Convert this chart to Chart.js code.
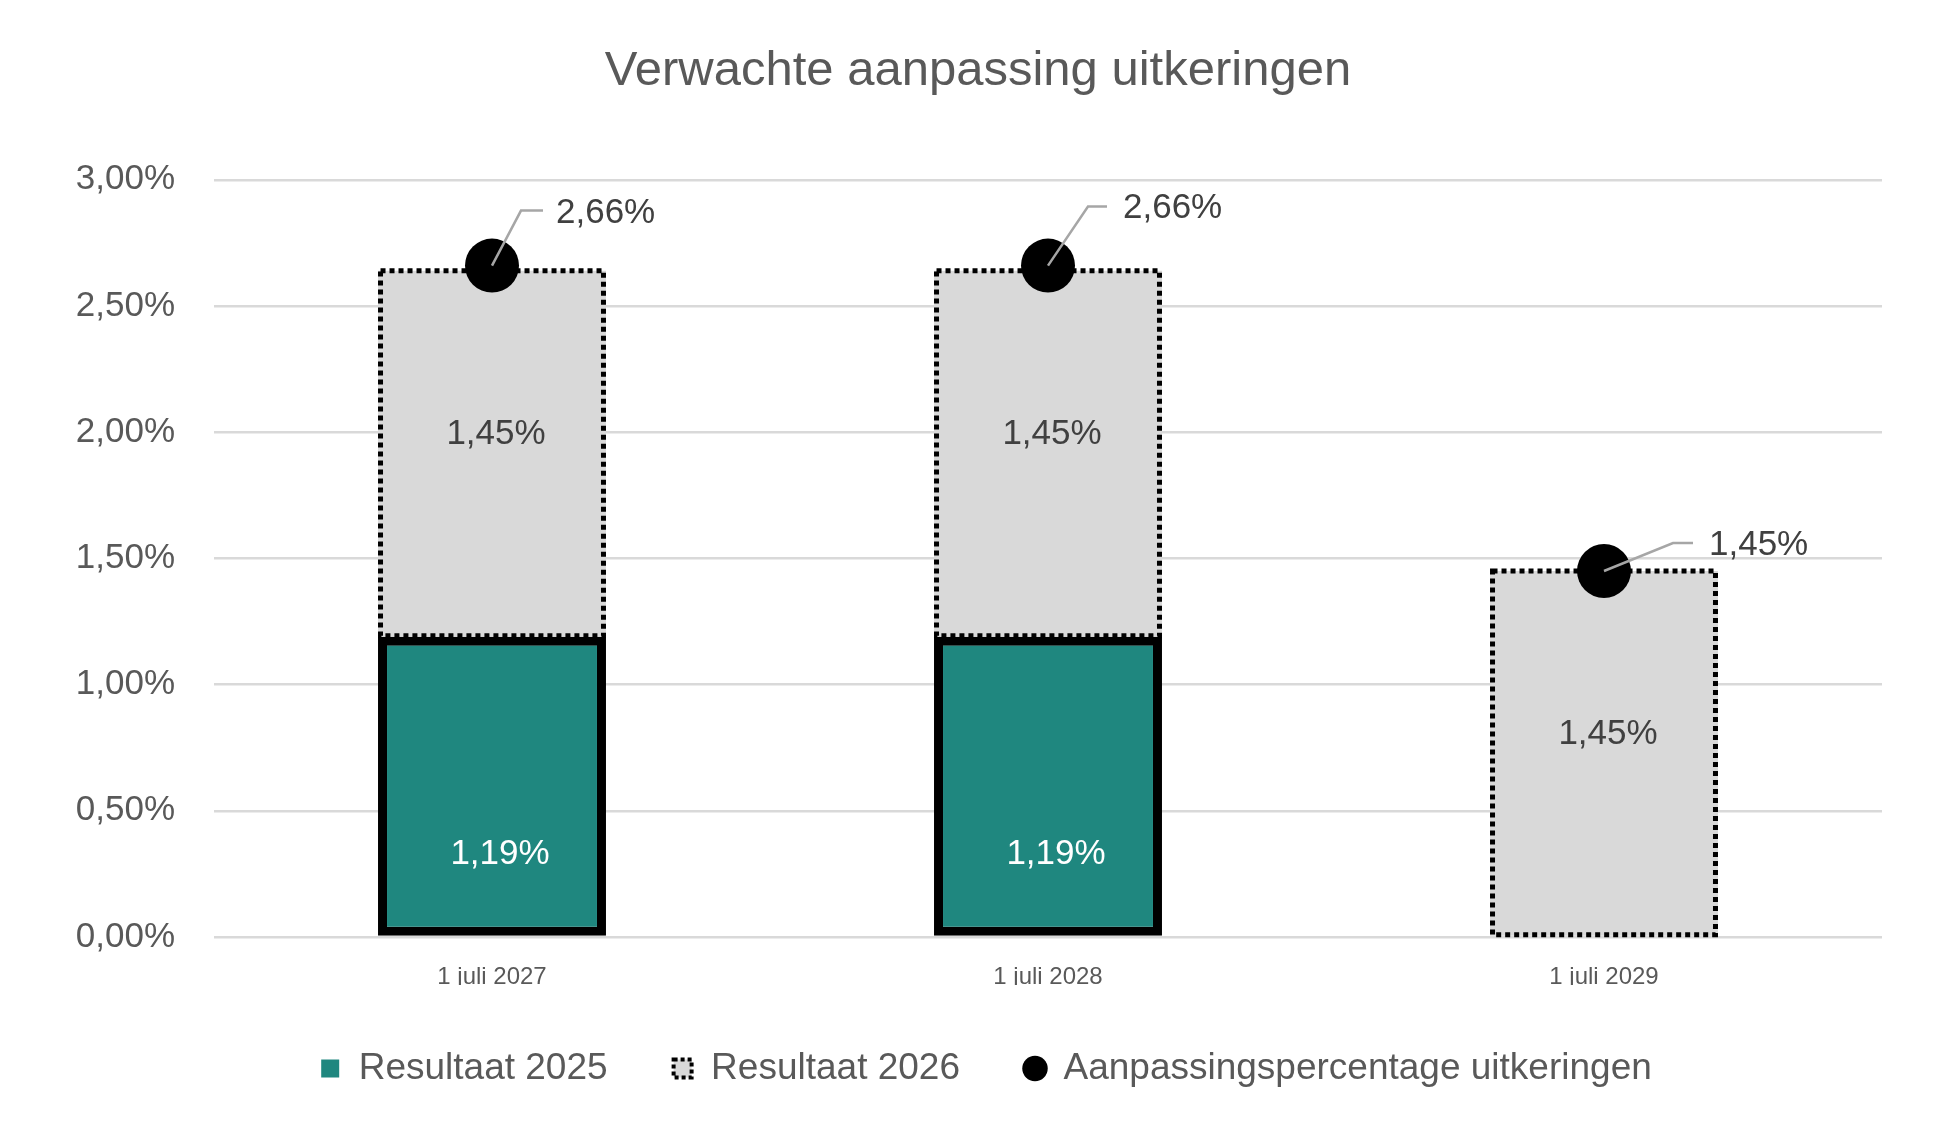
<!DOCTYPE html>
<html lang="nl">
<head>
  <meta charset="UTF-8">
  <title>Verwachte aanpassing uitkeringen</title>
  <script src="https://cdn.jsdelivr.net/npm/chart.js"></script>
  <style>
    html, body { margin: 0; padding: 0; background: #fff; }
  </style>
</head>
<body>
  <canvas id="uitkeringChart" width="1948" height="1133"></canvas>

  <script>
    // Data
    const categories = ['1 juli 2027', '1 juli 2028', '1 juli 2029'];
    const resultaat2025 = [1.19, 1.19, null];
    const resultaat2026 = [1.45, 1.45, 1.45];
    const aanpassing = [2.66, 2.66, 1.45];
    const yTicks = [0, 0.5, 1, 1.5, 2, 2.5, 3];

    const FONT = "'Liberation Sans', Arial, sans-serif";
    const TEAL = '#1F877F';
    const GREY = '#D9D9D9';
    const pct = v => v.toFixed(2).replace('.', ',') + '%';

    // callout placement for the dot labels (offsets from the dot centre)
    const callouts = [
      { elbowX: 29, elbowY: -55, endX: 51, textX: 64, textY: -52 },
      { elbowX: 40, elbowY: -59, endX: 59, textX: 75, textY: -57 },
      { elbowX: 69, elbowY: -28, endX: 89, textX: 105, textY: -26 },
    ];

    // dotted outline for the "Resultaat 2026" bars (Chart.js bars have no borderDash)
    const dottedBars = {
      id: 'dottedBars',
      afterDatasetDraw(chart, args) {
        if (args.index !== 1) return;
        const ctx = chart.ctx;
        ctx.save();
        ctx.strokeStyle = '#000';
        ctx.lineWidth = 5;
        ctx.setLineDash([5, 4]);
        args.meta.data.forEach((bar) => {
          const { x, y, base, width } = bar.getProps(['x', 'y', 'base', 'width'], true);
          ctx.strokeRect(x - width / 2 + 2.5, y, width - 5, base - y - 1);
        });
        ctx.restore();
      },
    };

    // value labels on bars and callouts on the dots
    const valueLabels = {
      id: 'valueLabels',
      afterDatasetsDraw(chart) {
        const ctx = chart.ctx;
        ctx.save();
        ctx.font = `35px ${FONT}`;
        ctx.textAlign = 'center';
        ctx.textBaseline = 'middle';

        chart.getDatasetMeta(0).data.forEach((bar, i) => {
          if (resultaat2025[i] == null) return;
          const { x, base } = bar.getProps(['x', 'base'], true);
          ctx.fillStyle = '#fff';
          ctx.fillText(pct(resultaat2025[i]), x + 8, base - 81);
        });

        chart.getDatasetMeta(1).data.forEach((bar, i) => {
          const { x, y, base } = bar.getProps(['x', 'y', 'base'], true);
          ctx.fillStyle = '#404040';
          ctx.fillText(pct(resultaat2026[i]), x + 4, (y + base) / 2 - 19);
        });

        chart.getDatasetMeta(2).data.forEach((pt, i) => {
          const { x, y } = pt.getProps(['x', 'y'], true);
          const c = callouts[i];
          ctx.strokeStyle = '#A6A6A6';
          ctx.lineWidth = 2.5;
          ctx.beginPath();
          ctx.moveTo(x, y);
          ctx.lineTo(x + c.elbowX, y + c.elbowY);
          ctx.lineTo(x + c.endX, y + c.elbowY);
          ctx.stroke();
          ctx.fillStyle = '#404040';
          ctx.textAlign = 'left';
          ctx.fillText(pct(aanpassing[i]), x + c.textX, y + c.textY);
        });
        ctx.restore();
      },
    };

    // Excel centres title and legend on the whole chart, not on the plot area
    const centreBlocks = {
      id: 'centreBlocks',
      afterLayout(chart) {
        chart.legend.left = 90;
        chart.titleBlock.left = 74;
      },
    };

    const config = {
      data: {
        labels: categories,
        datasets: [
          {
            type: 'bar',
            label: 'Resultaat 2025',
            data: resultaat2025,
            backgroundColor: TEAL,
            borderColor: '#000',
            borderWidth: 9,
            borderSkipped: false,
            order: 1,
          },
          {
            type: 'bar',
            label: 'Resultaat 2026',
            data: resultaat2026,
            backgroundColor: GREY,
            borderWidth: 0,
            order: 2,
          },
          {
            type: 'line',
            label: 'Aanpassingspercentage uitkeringen',
            data: aanpassing,
            showLine: false,
            pointStyle: 'circle',
            pointRadius: 27,
            pointHoverRadius: 27,
            pointBackgroundColor: '#000',
            pointBorderWidth: 0,
            stack: 'dots',
            order: 0,
          },
        ],
      },
      options: {
        responsive: false,
        devicePixelRatio: 1,
        animation: false,
        layout: { padding: { left: 0, right: 66, top: 0, bottom: 36 } },
        datasets: {
          bar: { categoryPercentage: 1, barPercentage: 0.41 },
        },
        scales: {
          x: {
            stacked: true,
            grid: { display: false },
            border: { display: false },
            ticks: {
              color: '#595959',
              font: { family: FONT, size: 24 },
              padding: 18,
            },
            afterFit(scale) { scale.height = 48; },
          },
          y: {
            stacked: true,
            min: 0,
            max: 3,
            afterBuildTicks(scale) { scale.ticks = yTicks.map(v => ({ value: v })); },
            grid: { color: GREY, lineWidth: 2.5, drawTicks: false },
            border: { display: false },
            ticks: {
              color: '#595959',
              font: { family: FONT, size: 35 },
              padding: 39,
              callback: (value) => pct(value),
            },
            afterFit(scale) { scale.width = 214; },
          },
        },
        plugins: {
          title: {
            display: true,
            text: 'Verwachte aanpassing uitkeringen',
            color: '#595959',
            font: { family: FONT, size: 49, weight: 'normal', lineHeight: 1.2 },
            padding: { top: 42, bottom: 79 },
          },
          legend: {
            position: 'bottom',
            labels: {
              usePointStyle: true,
              boxWidth: 20,
              boxHeight: 18,
              padding: 65,
              color: '#595959',
              font: { family: FONT, size: 37 },
              sort: (a, b) => a.datasetIndex - b.datasetIndex,
              generateLabels(chart) {
                const items = Chart.defaults.plugins.legend.labels.generateLabels(chart);
                items.forEach((it) => {
                  if (it.datasetIndex === 0) {
                    Object.assign(it, { pointStyle: 'rect', fillStyle: TEAL, lineWidth: 0 });
                  } else if (it.datasetIndex === 1) {
                    Object.assign(it, { pointStyle: 'rect', fillStyle: GREY, strokeStyle: '#000', lineWidth: 4, lineDash: [4, 3] });
                  } else {
                    Object.assign(it, { pointStyle: 'circle', fillStyle: '#000', lineWidth: 0 });
                  }
                });
                return items;
              },
            },
          },
          tooltip: { enabled: false },
        },
      },
      plugins: [dottedBars, valueLabels, centreBlocks],
    };

    const ctx = document.getElementById('uitkeringChart').getContext('2d');
    new Chart(ctx, config);
  </script>
</body>
</html>
